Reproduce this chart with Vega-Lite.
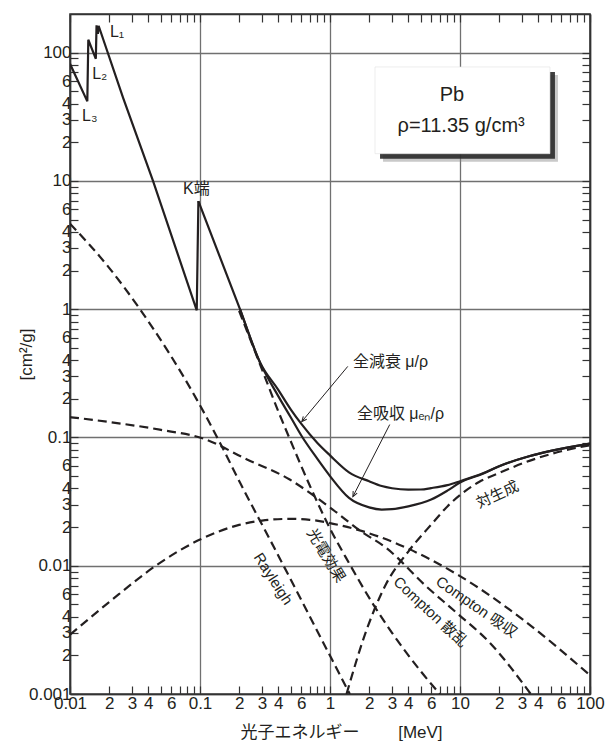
{
  "$schema": "https://vega.github.io/schema/vega-lite/v6.json",
  "width": 520,
  "height": 680,
  "autosize": {"type": "none"},
  "padding": {"left": 70, "top": 14, "right": 15, "bottom": 53},
  "background": "white",
  "config": {
    "view": {"stroke": "#333333", "strokeWidth": 1.6},
    "font": "Liberation Sans, Noto Sans CJK JP, sans-serif",
    "text": {"font": "Liberation Sans, Noto Sans CJK JP, sans-serif", "color": "#231f20"}
  },
  "datasets": {
    "solid": [
      {"s": "t1", "i": 0, "e": 0.01, "v": 81.8},
      {"s": "t1", "i": 1, "e": 0.01359, "v": 41.7},
      {"s": "t1", "i": 2, "e": 0.01383, "v": 126},
      {"s": "t1", "i": 3, "e": 0.0158, "v": 89.5},
      {"s": "t1", "i": 4, "e": 0.016, "v": 163},
      {"s": "t1", "i": 5, "e": 0.0164, "v": 140},
      {"s": "t1", "i": 6, "e": 0.0166, "v": 162},
      {"s": "t1", "i": 7, "e": 0.0257, "v": 44},
      {"s": "t1", "i": 8, "e": 0.0435, "v": 10},
      {"s": "t1", "i": 9, "e": 0.0944, "v": 0.98},
      {"s": "t1", "i": 10, "e": 0.0972, "v": 6.96},
      {"s": "t2", "i": 0, "e": 0.0972, "v": 6.96},
      {"s": "t2", "i": 1, "e": 0.203, "v": 1.0},
      {"s": "t2", "i": 2, "e": 0.29, "v": 0.383},
      {"s": "t2", "i": 3, "e": 0.4, "v": 0.235},
      {"s": "t2", "i": 4, "e": 0.5, "v": 0.165},
      {"s": "t2", "i": 5, "e": 0.6, "v": 0.128},
      {"s": "t2", "i": 6, "e": 0.8, "v": 0.0905},
      {"s": "t2", "i": 7, "e": 1.0, "v": 0.0725},
      {"s": "t2", "i": 8, "e": 1.4, "v": 0.0535},
      {"s": "t2", "i": 9, "e": 2.0, "v": 0.0455},
      {"s": "t2", "i": 10, "e": 2.5, "v": 0.0418},
      {"s": "t2", "i": 11, "e": 3, "v": 0.0402},
      {"s": "t2", "i": 12, "e": 4, "v": 0.0392},
      {"s": "t2", "i": 13, "e": 5, "v": 0.0393},
      {"s": "t2", "i": 14, "e": 6, "v": 0.0403},
      {"s": "t2", "i": 15, "e": 8, "v": 0.0425},
      {"s": "t2", "i": 16, "e": 10, "v": 0.0456},
      {"s": "t2", "i": 17, "e": 15, "v": 0.0525},
      {"s": "t2", "i": 18, "e": 20, "v": 0.0597},
      {"s": "t2", "i": 19, "e": 34, "v": 0.0714},
      {"s": "t2", "i": 20, "e": 50, "v": 0.0785},
      {"s": "t2", "i": 21, "e": 100, "v": 0.0895},
      {"s": "en", "i": 0, "e": 0.203, "v": 1.0},
      {"s": "en", "i": 1, "e": 0.29, "v": 0.383},
      {"s": "en", "i": 2, "e": 0.4, "v": 0.21},
      {"s": "en", "i": 3, "e": 0.5, "v": 0.143},
      {"s": "en", "i": 4, "e": 0.6, "v": 0.104},
      {"s": "en", "i": 5, "e": 0.8, "v": 0.068},
      {"s": "en", "i": 6, "e": 1.0, "v": 0.05},
      {"s": "en", "i": 7, "e": 1.4, "v": 0.0338},
      {"s": "en", "i": 8, "e": 2.0, "v": 0.0285},
      {"s": "en", "i": 9, "e": 2.5, "v": 0.0274},
      {"s": "en", "i": 10, "e": 3, "v": 0.0276},
      {"s": "en", "i": 11, "e": 4, "v": 0.029},
      {"s": "en", "i": 12, "e": 6, "v": 0.0328},
      {"s": "en", "i": 13, "e": 8, "v": 0.0385},
      {"s": "en", "i": 14, "e": 10, "v": 0.0445},
      {"s": "en", "i": 15, "e": 15, "v": 0.0522},
      {"s": "en", "i": 16, "e": 20, "v": 0.0597},
      {"s": "en", "i": 17, "e": 34, "v": 0.0714},
      {"s": "en", "i": 18, "e": 50, "v": 0.0785},
      {"s": "en", "i": 19, "e": 100, "v": 0.0895}
    ],
    "dashed": [
      {"s": "ray", "i": 0, "e": 0.01, "v": 4.64},
      {"s": "ray", "i": 1, "e": 0.02, "v": 2.1},
      {"s": "ray", "i": 2, "e": 0.0345, "v": 1.0},
      {"s": "ray", "i": 3, "e": 0.0943, "v": 0.198},
      {"s": "ray", "i": 4, "e": 0.142, "v": 0.0915},
      {"s": "ray", "i": 5, "e": 0.203, "v": 0.0445},
      {"s": "ray", "i": 6, "e": 0.345, "v": 0.016},
      {"s": "ray", "i": 7, "e": 1.34, "v": 0.00112},
      {"s": "ray", "i": 8, "e": 1.42, "v": 0.001},
      {"s": "cs", "i": 0, "e": 0.01, "v": 0.144},
      {"s": "cs", "i": 1, "e": 0.02, "v": 0.132},
      {"s": "cs", "i": 2, "e": 0.049, "v": 0.115},
      {"s": "cs", "i": 3, "e": 0.106, "v": 0.098},
      {"s": "cs", "i": 4, "e": 0.23, "v": 0.0673},
      {"s": "cs", "i": 5, "e": 0.49, "v": 0.047},
      {"s": "cs", "i": 6, "e": 0.7, "v": 0.037},
      {"s": "cs", "i": 7, "e": 1.05, "v": 0.0274},
      {"s": "cs", "i": 8, "e": 1.7, "v": 0.0188},
      {"s": "cs", "i": 9, "e": 2.7, "v": 0.0138},
      {"s": "cs", "i": 10, "e": 5.5, "v": 0.0069},
      {"s": "cs", "i": 11, "e": 9.4, "v": 0.0043},
      {"s": "cs", "i": 12, "e": 17, "v": 0.0025},
      {"s": "cs", "i": 13, "e": 35, "v": 0.001},
      {"s": "ca", "i": 0, "e": 0.01, "v": 0.0029},
      {"s": "ca", "i": 1, "e": 0.02, "v": 0.0052},
      {"s": "ca", "i": 2, "e": 0.047, "v": 0.0102},
      {"s": "ca", "i": 3, "e": 0.1, "v": 0.016},
      {"s": "ca", "i": 4, "e": 0.2, "v": 0.0208},
      {"s": "ca", "i": 5, "e": 0.3, "v": 0.0225},
      {"s": "ca", "i": 6, "e": 0.5, "v": 0.0232},
      {"s": "ca", "i": 7, "e": 0.7, "v": 0.0228},
      {"s": "ca", "i": 8, "e": 1.24, "v": 0.0205},
      {"s": "ca", "i": 9, "e": 2.4, "v": 0.0168},
      {"s": "ca", "i": 10, "e": 3.4, "v": 0.0146},
      {"s": "ca", "i": 11, "e": 10, "v": 0.0083},
      {"s": "ca", "i": 12, "e": 30.5, "v": 0.0038},
      {"s": "ca", "i": 13, "e": 100, "v": 0.0014},
      {"s": "pe", "i": 0, "e": 0.2, "v": 0.97},
      {"s": "pe", "i": 1, "e": 0.29, "v": 0.37},
      {"s": "pe", "i": 2, "e": 0.4, "v": 0.16},
      {"s": "pe", "i": 3, "e": 0.5, "v": 0.093},
      {"s": "pe", "i": 4, "e": 0.7, "v": 0.042},
      {"s": "pe", "i": 5, "e": 1.0, "v": 0.0195},
      {"s": "pe", "i": 6, "e": 1.4, "v": 0.0105},
      {"s": "pe", "i": 7, "e": 2.15, "v": 0.005},
      {"s": "pe", "i": 8, "e": 3, "v": 0.003},
      {"s": "pe", "i": 9, "e": 5, "v": 0.0015},
      {"s": "pe", "i": 10, "e": 7, "v": 0.001},
      {"s": "pp", "i": 0, "e": 1.34, "v": 0.001},
      {"s": "pp", "i": 1, "e": 1.92, "v": 0.0032},
      {"s": "pp", "i": 2, "e": 2.7, "v": 0.0072},
      {"s": "pp", "i": 3, "e": 4.1, "v": 0.0133},
      {"s": "pp", "i": 4, "e": 6.2, "v": 0.0217},
      {"s": "pp", "i": 5, "e": 8, "v": 0.029},
      {"s": "pp", "i": 6, "e": 10.5, "v": 0.037},
      {"s": "pp", "i": 7, "e": 14, "v": 0.045},
      {"s": "pp", "i": 8, "e": 19.3, "v": 0.052},
      {"s": "pp", "i": 9, "e": 34.6, "v": 0.066},
      {"s": "pp", "i": 10, "e": 60, "v": 0.078},
      {"s": "pp", "i": 11, "e": 100, "v": 0.087}
    ],
    "box": [{"e": 2.22, "e2": 49.2, "v": 16.3, "v2": 77.3}],
    "arrows": [
      {"e": 1.37, "v": 0.358, "e2": 0.607, "v2": 0.133, "ang": 220},
      {"e": 2.88, "v": 0.126, "e2": 1.5, "v2": 0.0346, "ang": 207}
    ],
    "frame": [{"e": 0.01, "v": 0.001}, {"e": 100, "v": 200}]
  },
  "resolve": {"axis": {"x": "independent", "y": "independent"}},
  "layer": [
    {
      "data": {"name": "frame"},
      "mark": {"type": "point", "opacity": 0},
      "encoding": {
        "x": {"field": "e", "type": "quantitative",
          "scale": {"type": "log", "domain": [0.01, 100], "nice": false},
          "axis": {
            "orient": "bottom",
            "values": [0.01,0.02,0.03,0.04,0.05,0.06,0.07,0.08,0.09,0.1,0.2,0.3,0.4,0.5,0.6,0.7,0.8,0.9,1,2,3,4,5,6,7,8,9,10,20,30,40,50,60,70,80,90,100],
            "labelExpr": "round(datum.value/pow(10,floor(log(datum.value)/LN10+1e-6))) == 1 ? format(datum.value,'~g') : (indexof([2,3,4,6], round(datum.value/pow(10,floor(log(datum.value)/LN10+1e-6)))) >= 0 ? '' + round(datum.value/pow(10,floor(log(datum.value)/LN10+1e-6))) : '')",
            "labelFont": "Liberation Sans", "labelFontSize": 17, "labelColor": "#231f20",
            "labelPadding": 9, "labelFlush": false, "labelOverlap": false,
            "tickSize": -8, "tickColor": "#333333", "tickWidth": 1.2,
            "domainColor": "#333333", "domainWidth": 1.6,
            "grid": true, "gridColor": "#707070", "gridWidth": 1.3,
            "gridOpacity": {"condition": {"test": "abs(log(datum.value)/LN10 - round(log(datum.value)/LN10)) < 0.01", "value": 1}, "value": 0},
            "title": "光子エネルギー　　 [MeV]",
            "titleFont": "Liberation Sans, Noto Sans CJK JP", "titleFontSize": 17, "titleFontWeight": "normal", "titleColor": "#231f20",
            "titlePadding": 13, "titleX": 271, "titleAlign": "center"
          }},
        "y": {"field": "v", "type": "quantitative",
          "scale": {"type": "log", "domain": [0.001, 200], "nice": false},
          "axis": {
            "orient": "left",
            "values": [0.001,0.002,0.003,0.004,0.005,0.006,0.007,0.008,0.009,0.01,0.02,0.03,0.04,0.05,0.06,0.07,0.08,0.09,0.1,0.2,0.3,0.4,0.5,0.6,0.7,0.8,0.9,1,2,3,4,5,6,7,8,9,10,20,30,40,50,60,70,80,90,100],
            "labelExpr": "round(datum.value/pow(10,floor(log(datum.value)/LN10+1e-6))) == 1 ? format(datum.value,'~g') : (indexof([2,3,4,6], round(datum.value/pow(10,floor(log(datum.value)/LN10+1e-6)))) >= 0 ? '' + round(datum.value/pow(10,floor(log(datum.value)/LN10+1e-6))) : '')",
            "labelFont": "Liberation Sans", "labelFontSize": 17, "labelColor": "#231f20",
            "labelPadding": 7, "labelFlush": false, "labelOverlap": false,
            "tickSize": -8, "tickColor": "#333333", "tickWidth": 1.2,
            "domainColor": "#333333", "domainWidth": 1.6,
            "grid": true, "gridColor": "#707070", "gridWidth": 1.3,
            "gridOpacity": {"condition": {"test": "abs(log(datum.value)/LN10 - round(log(datum.value)/LN10)) < 0.01", "value": 1}, "value": 0},
            "title": "[cm²/g]",
            "titleFont": "Liberation Sans", "titleFontSize": 17, "titleFontWeight": "normal", "titleColor": "#231f20",
            "titleAngle": -90, "titleAlign": "center", "titleBaseline": "middle",
            "titleX": -44, "titleY": 340
          }}
      }
    },
    {
      "data": {"name": "frame"},
      "mark": {"type": "point", "opacity": 0},
      "encoding": {
        "x": {"field": "e", "type": "quantitative",
          "axis": {
            "orient": "top", "labels": false, "title": null, "grid": false,
            "values": [0.01,0.02,0.03,0.04,0.05,0.06,0.07,0.08,0.09,0.1,0.2,0.3,0.4,0.5,0.6,0.7,0.8,0.9,1,2,3,4,5,6,7,8,9,10,20,30,40,50,60,70,80,90,100],
            "tickSize": -8, "tickColor": "#333333", "tickWidth": 1.2,
            "domainColor": "#333333", "domainWidth": 1.6
          }},
        "y": {"field": "v", "type": "quantitative",
          "axis": {
            "orient": "right", "labels": false, "title": null, "grid": false,
            "values": [0.001,0.002,0.003,0.004,0.005,0.006,0.007,0.008,0.009,0.01,0.02,0.03,0.04,0.05,0.06,0.07,0.08,0.09,0.1,0.2,0.3,0.4,0.5,0.6,0.7,0.8,0.9,1,2,3,4,5,6,7,8,9,10,20,30,40,50,60,70,80,90,100],
            "tickSize": -8, "tickColor": "#333333", "tickWidth": 1.2,
            "domainColor": "#333333", "domainWidth": 1.6
          }}
      }
    },
    {
      "data": {"name": "dashed"},
      "mark": {"type": "line", "color": "#231f20", "strokeWidth": 2.2, "strokeDash": [9, 5], "clip": true, "interpolate": "monotone"},
      "encoding": {
        "x": {"field": "e", "type": "quantitative", "axis": null},
        "y": {"field": "v", "type": "quantitative", "axis": null},
        "detail": {"field": "s"},
        "order": {"field": "i", "type": "quantitative"}
      }
    },
    {
      "data": {"name": "solid"},
      "transform": [{"filter": "datum.s == 't1'"}],
      "mark": {"type": "line", "color": "#231f20", "strokeWidth": 2.2, "clip": true},
      "encoding": {
        "x": {"field": "e", "type": "quantitative", "axis": null},
        "y": {"field": "v", "type": "quantitative", "axis": null},
        "order": {"field": "i", "type": "quantitative"}
      }
    },
    {
      "data": {"name": "solid"},
      "transform": [{"filter": "datum.s != 't1'"}],
      "mark": {"type": "line", "color": "#231f20", "strokeWidth": 2.2, "clip": true, "interpolate": "monotone"},
      "encoding": {
        "x": {"field": "e", "type": "quantitative", "axis": null},
        "y": {"field": "v", "type": "quantitative", "axis": null},
        "detail": {"field": "s"},
        "order": {"field": "i", "type": "quantitative"}
      }
    },
    {
      "data": {"name": "box"},
      "mark": {"type": "rect", "fill": "#888888", "opacity": 0.45, "xOffset": 8, "x2Offset": 8, "yOffset": 8, "y2Offset": 8},
      "encoding": {
        "x": {"field": "e", "type": "quantitative", "axis": null},
        "x2": {"field": "e2"},
        "y": {"field": "v", "type": "quantitative", "axis": null},
        "y2": {"field": "v2"}
      }
    },
    {
      "data": {"name": "box"},
      "mark": {"type": "rect", "fill": "#2a2a2a", "opacity": 0.9, "xOffset": 5, "x2Offset": 5, "yOffset": 5, "y2Offset": 5},
      "encoding": {
        "x": {"field": "e", "type": "quantitative", "axis": null},
        "x2": {"field": "e2"},
        "y": {"field": "v", "type": "quantitative", "axis": null},
        "y2": {"field": "v2"}
      }
    },
    {
      "data": {"name": "box"},
      "mark": {"type": "rect", "fill": "white", "stroke": "#e0e0e0", "strokeWidth": 0.6},
      "encoding": {
        "x": {"field": "e", "type": "quantitative", "axis": null},
        "x2": {"field": "e2"},
        "y": {"field": "v", "type": "quantitative", "axis": null},
        "y2": {"field": "v2"}
      }
    },
    {
      "data": {"values": [{"t": "Pb", "e": 8.66, "v": 47.1}, {"t": "ρ=11.35 g/cm³", "e": 10.2, "v": 26.9}]},
      "mark": {"type": "text", "fontSize": 20, "align": "center", "baseline": "middle", "font": "Liberation Sans"},
      "encoding": {
        "x": {"field": "e", "type": "quantitative", "axis": null},
        "y": {"field": "v", "type": "quantitative", "axis": null},
        "text": {"field": "t"}
      }
    },
    {
      "data": {"values": [
        {"t": "L₁", "e": 0.0203, "v": 146},
        {"t": "L₂", "e": 0.0148, "v": 68.5},
        {"t": "L₃", "e": 0.01237, "v": 32.2},
        {"t": "K端", "e": 0.074, "v": 8.66}
      ]},
      "mark": {"type": "text", "fontSize": 16, "align": "left", "baseline": "middle"},
      "encoding": {
        "x": {"field": "e", "type": "quantitative", "axis": null},
        "y": {"field": "v", "type": "quantitative", "axis": null},
        "text": {"field": "t"}
      }
    },
    {
      "data": {"values": [
        {"t": "全減衰  μ/ρ", "e": 1.5, "v": 0.385},
        {"t": "全吸収  μₑₙ/ρ", "e": 1.61, "v": 0.151}
      ]},
      "mark": {"type": "text", "fontSize": 16, "align": "left", "baseline": "middle"},
      "encoding": {
        "x": {"field": "e", "type": "quantitative", "axis": null},
        "y": {"field": "v", "type": "quantitative", "axis": null},
        "text": {"field": "t"}
      }
    },
    {
      "data": {"values": [{"t": "光電効果", "e": 0.935, "v": 0.012}]},
      "mark": {"type": "text", "fontSize": 15, "align": "center", "baseline": "middle", "angle": 59},
      "encoding": {
        "x": {"field": "e", "type": "quantitative", "axis": null},
        "y": {"field": "v", "type": "quantitative", "axis": null},
        "text": {"field": "t"}
      }
    },
    {
      "data": {"values": [{"t": "Rayleigh", "e": 0.366, "v": 0.0079}]},
      "mark": {"type": "text", "fontSize": 15, "align": "center", "baseline": "middle", "angle": 57},
      "encoding": {
        "x": {"field": "e", "type": "quantitative", "axis": null},
        "y": {"field": "v", "type": "quantitative", "axis": null},
        "text": {"field": "t"}
      }
    },
    {
      "data": {"values": [{"t": "Compton 散乱", "e": 5.95, "v": 0.00437}]},
      "mark": {"type": "text", "fontSize": 15, "align": "center", "baseline": "middle", "angle": 43},
      "encoding": {
        "x": {"field": "e", "type": "quantitative", "axis": null},
        "y": {"field": "v", "type": "quantitative", "axis": null},
        "text": {"field": "t"}
      }
    },
    {
      "data": {"values": [{"t": "Compton  吸収", "e": 13.4, "v": 0.00478}]},
      "mark": {"type": "text", "fontSize": 15, "align": "center", "baseline": "middle", "angle": 35},
      "encoding": {
        "x": {"field": "e", "type": "quantitative", "axis": null},
        "y": {"field": "v", "type": "quantitative", "axis": null},
        "text": {"field": "t"}
      }
    },
    {
      "data": {"values": [{"t": "対生成", "e": 19.4, "v": 0.0359}]},
      "mark": {"type": "text", "fontSize": 15, "align": "center", "baseline": "middle", "angle": -25},
      "encoding": {
        "x": {"field": "e", "type": "quantitative", "axis": null},
        "y": {"field": "v", "type": "quantitative", "axis": null},
        "text": {"field": "t"}
      }
    },
    {
      "data": {"name": "arrows"},
      "mark": {"type": "rule", "color": "#231f20", "strokeWidth": 1},
      "encoding": {
        "x": {"field": "e", "type": "quantitative", "axis": null},
        "y": {"field": "v", "type": "quantitative", "axis": null},
        "x2": {"field": "e2"},
        "y2": {"field": "v2"}
      }
    },
    {
      "data": {"name": "arrows"},
      "mark": {"type": "point", "shape": "M-0.45,1 L0,0 L0.45,1", "filled": false, "stroke": "#231f20", "strokeWidth": 1, "size": 100, "opacity": 1},
      "encoding": {
        "x": {"field": "e2", "type": "quantitative", "axis": null},
        "y": {"field": "v2", "type": "quantitative", "axis": null},
        "angle": {"field": "ang", "type": "quantitative", "scale": null}
      }
    }
  ]
}
